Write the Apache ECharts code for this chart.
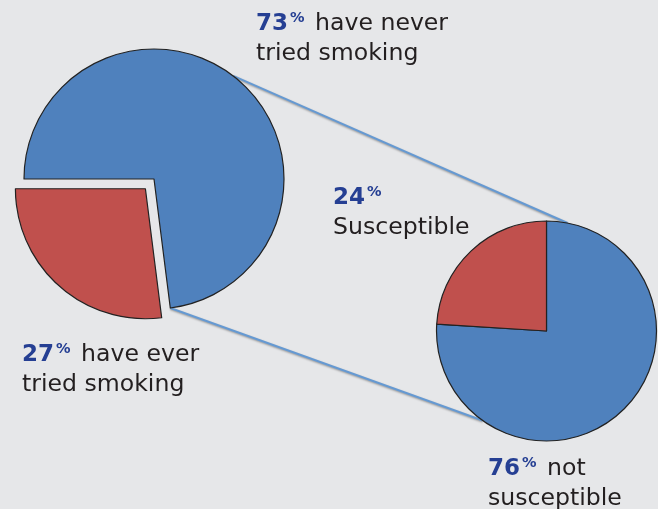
<!DOCTYPE html>
<html>
<head>
<meta charset="utf-8">
<script src="https://cdn.jsdelivr.net/npm/echarts@6/dist/echarts.min.js"></script>
<style>
html,body{margin:0;padding:0;background:#e6e7e9;}
#chart{width:658px;height:509px;}
</style>
</head>
<body>
<div id="chart"></div>
<script>
// Data
const smokingCategories = ['have never tried smoking', 'have ever tried smoking'];
const smokingValues = [73, 27];
const suscCategories = ['not susceptible', 'Susceptible'];
const suscValues = [76, 24];

const BLUE = '#4f81bd', RED = '#c0504d', LABEL_BLUE = '#253f93', TXT = '#231f20';
const FONT = 'DejaVu Sans, Verdana, sans-serif';

const leftC = [154, 179], leftR = 130;
const rightC = [546.5, 331], rightR = 110;

function pt(c, r, degMath) {
  const a = degMath * Math.PI / 180;
  return [c[0] + r * Math.cos(a), c[1] - r * Math.sin(a)];
}
// end angle of first (blue) slice on left pie, start 180 clockwise
const leftTotal = smokingValues[0] + smokingValues[1];
const blueEnd = 180 - smokingValues[0] / leftTotal * 360;

const l1a = pt(leftC, leftR, 52.5), l1b = pt(rightC, rightR, 79);
const l2a = pt(leftC, leftR, blueEnd), l2b = pt(rightC, rightR, 234.5);

function label(x, y, pct, line1, line2) {
  return {
    type: 'text', left: x, top: y, z: 10,
    style: {
      text: '{b|' + pct + '}{p|%}' + (line1 ? ' ' + line1 : '') + '\n' + line2,
      font: '23.6px ' + FONT,
      fill: TXT,
      lineHeight: 30,
      rich: {
        b: { fontFamily: FONT, fontWeight: 'bold', fontSize: 23, fill: LABEL_BLUE, lineHeight: 30 },
        p: { fontFamily: FONT, fontWeight: 'bold', fontSize: 14.5, fill: LABEL_BLUE, verticalAlign: 'top', lineHeight: 30, padding: [2, 3, 4, 2] }
      }
    }
  };
}

const lineStyle = { stroke: '#6599d2', lineWidth: 2, shadowBlur: 2, shadowColor: 'rgba(0,0,0,0.35)', shadowOffsetY: 1 };

const chart = echarts.init(document.getElementById('chart'), null, { renderer: 'canvas' });
chart.setOption({
  backgroundColor: '#e6e7e9',
  animation: false,
  graphic: [
    { type: 'line', z: 0, shape: { x1: l1a[0], y1: l1a[1], x2: l1b[0], y2: l1b[1] }, style: lineStyle },
    { type: 'line', z: 0, shape: { x1: l2a[0], y1: l2a[1], x2: l2b[0], y2: l2b[1] }, style: lineStyle },
    label(256, 9, smokingValues[0], 'have never', 'tried smoking'),
    label(333, 183, suscValues[1], '', 'Susceptible'),
    label(22, 340, smokingValues[1], 'have ever', 'tried smoking'),
    label(488, 454, suscValues[0], 'not', 'susceptible')
  ],
  series: [
    {
      type: 'pie', z: 5, center: leftC, radius: leftR, startAngle: 180, clockwise: true,
      selectedMode: 'single', selectedOffset: 13, label: { show: false }, labelLine: { show: false },
      emphasis: { disabled: true }, silent: true,
      itemStyle: { borderColor: '#222222', borderWidth: 1.2 },
      data: [
        { name: smokingCategories[0], value: smokingValues[0], itemStyle: { color: BLUE } },
        { name: smokingCategories[1], value: smokingValues[1], selected: true, itemStyle: { color: RED } }
      ]
    },
    {
      type: 'pie', z: 5, center: rightC, radius: rightR, startAngle: 90, clockwise: true,
      label: { show: false }, labelLine: { show: false },
      emphasis: { disabled: true }, silent: true,
      itemStyle: { borderColor: '#222222', borderWidth: 1.2 },
      data: [
        { name: suscCategories[0], value: suscValues[0], itemStyle: { color: BLUE } },
        { name: suscCategories[1], value: suscValues[1], itemStyle: { color: RED } }
      ]
    }
  ]
});
</script>
</body>
</html>
